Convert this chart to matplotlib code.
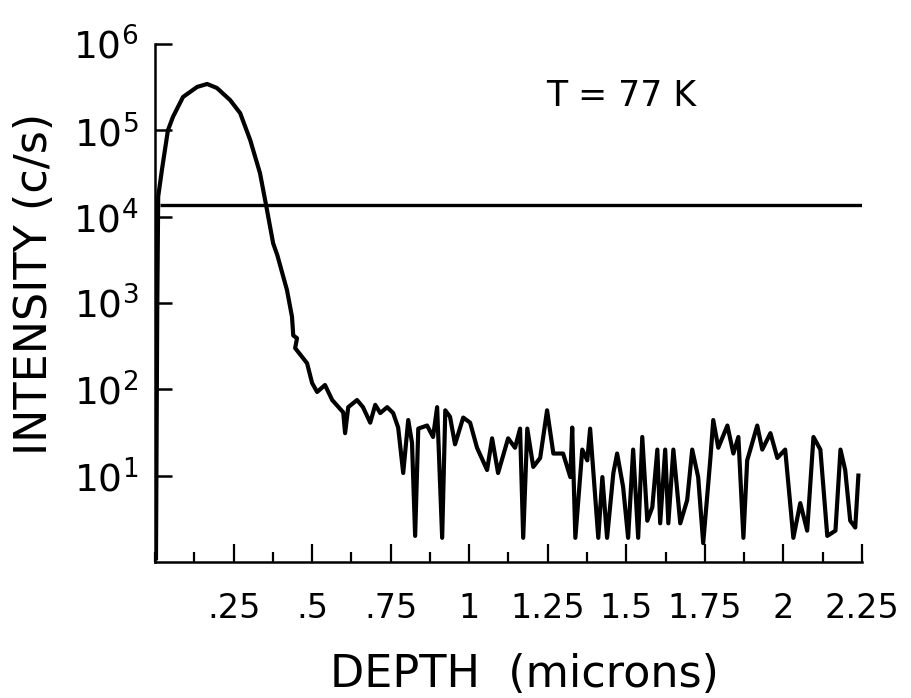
import numpy as np
import matplotlib
matplotlib.use("Agg")
import matplotlib.pyplot as plt
from matplotlib.ticker import FixedLocator, MultipleLocator, NullFormatter

plt.rcParams['font.family'] = ['DejaVu Sans']
plt.rcParams['mathtext.default'] = 'regular'

# depth profile (depth in microns, intensity in c/s)
depth = [0.003, 0.005, 0.007, 0.009, 0.010, 0.022, 0.041, 0.057, 0.089, 0.134,
         0.166, 0.197, 0.239, 0.271, 0.303, 0.334, 0.354, 0.376, 0.389, 0.420,
         0.436, 0.440, 0.452, 0.446, 0.484, 0.500, 0.516, 0.541, 0.564, 0.599,
         0.605, 0.615, 0.643, 0.662, 0.685, 0.701, 0.717, 0.739, 0.758, 0.774,
         0.790, 0.806, 0.818, 0.828, 0.838, 0.866, 0.885, 0.898, 0.914, 0.924,
         0.939, 0.955, 0.981, 1.003, 1.025, 1.057, 1.073, 1.092, 1.124, 1.146,
         1.162, 1.172, 1.185, 1.204, 1.226, 1.248, 1.268, 1.299, 1.322, 1.328,
         1.338, 1.360, 1.376, 1.385, 1.411, 1.424, 1.439, 1.459, 1.471, 1.490,
         1.506, 1.522, 1.538, 1.551, 1.567, 1.583, 1.599, 1.608, 1.624, 1.634,
         1.650, 1.672, 1.694, 1.710, 1.729, 1.745, 1.768, 1.777, 1.793, 1.822,
         1.841, 1.857, 1.873, 1.885, 1.895, 1.917, 1.933, 1.959, 1.981, 2.006,
         2.032, 2.054, 2.076, 2.096, 2.118, 2.140, 2.166, 2.182, 2.197, 2.213,
         2.229, 2.239]
intensity = [1.1, 30, 800, 6000, 1.7e4, 3.5e4, 1.0e5, 1.43e5, 2.43e5, 3.18e5,
             3.44e5, 3.09e5, 2.24e5, 1.58e5, 7.7e4, 3.2e4, 1.33e4, 4.9e3, 3.6e3, 1.41e3,
             690, 420, 390, 300, 200, 118, 93, 112, 75, 54,
             31, 62, 75, 62, 41, 66, 53, 62, 53, 36,
             10.7, 44, 24, 2.0, 35, 38, 28, 62, 1.9, 57,
             48, 23, 47, 41, 21, 11.6, 27, 10.7, 27, 21,
             35, 1.9, 35, 12.6, 16, 57, 18, 18, 9.6, 36,
             1.9, 20, 15, 35, 1.9, 9.6, 1.9, 10.7, 18, 7.4,
             1.9, 20, 1.9, 28, 3.0, 4.3, 20, 2.8, 20, 2.8,
             20, 2.8, 5.2, 20, 9.6, 1.65, 16, 44, 21, 38,
             18, 28, 1.9, 15, 20, 38, 20, 31, 16, 20,
             1.9, 4.8, 2.3, 28, 20, 2.0, 2.3, 20, 11.6, 3.0,
             2.5, 10]

# background level line
bg_level = 1.35e4
bg_start = 0.016

xticks = [0.25, 0.5, 0.75, 1.0, 1.25, 1.5, 1.75, 2.0, 2.25]
xlabels = ['.25', '.5', '.75', '1', '1.25', '1.5', '1.75', '2', '2.25']
yticks = [1e1, 1e2, 1e3, 1e4, 1e5, 1e6]
ylabels = [r'$10^{1}$', r'$10^{2}$', r'$10^{3}$', r'$10^{4}$', r'$10^{5}$', r'$10^{6}$']

fig = plt.figure(figsize=(9.12, 6.98), dpi=100)
ax = fig.add_axes([0.170, 0.195, 0.775, 0.742])

ax.plot(depth, intensity, color='black', lw=3.0, solid_joinstyle='round')
ax.hlines(bg_level, bg_start, 2.25, color='black', lw=2.4)

ax.set_yscale('log')
ax.set_xlim(0, 2.25)
ax.set_ylim(1, 1e6)

for s in ['top', 'right']:
    ax.spines[s].set_visible(False)
for s in ['left', 'bottom']:
    ax.spines[s].set_linewidth(1.8)

ax.xaxis.set_major_locator(FixedLocator(xticks))
ax.set_xticklabels(xlabels, fontsize=24)
ax.xaxis.set_minor_locator(MultipleLocator(0.125))
ax.xaxis.set_minor_formatter(NullFormatter())
ax.yaxis.set_major_locator(FixedLocator(yticks))
ax.set_yticklabels(ylabels, fontsize=27)
ax.yaxis.set_minor_locator(FixedLocator([]))

ax.tick_params(axis='x', which='major', direction='in', length=13, width=1.6, pad=22)
ax.tick_params(axis='x', which='minor', direction='in', length=7, width=1.6)
ax.tick_params(axis='y', which='major', direction='in', length=12, width=1.8, pad=12)

ax.set_xlabel('DEPTH  (microns)', fontsize=32, va='center')
ax.xaxis.set_label_coords(0.523, -0.218)
ax.set_ylabel('INTENSITY (c/s)', fontsize=32, va='center')
ax.yaxis.set_label_coords(-0.171, 0.537)

ax.text(0.66, 0.90, 'T = 77 K', transform=ax.transAxes, fontsize=25,
        ha='center', va='center')

fig.savefig('out.png', dpi=100)
